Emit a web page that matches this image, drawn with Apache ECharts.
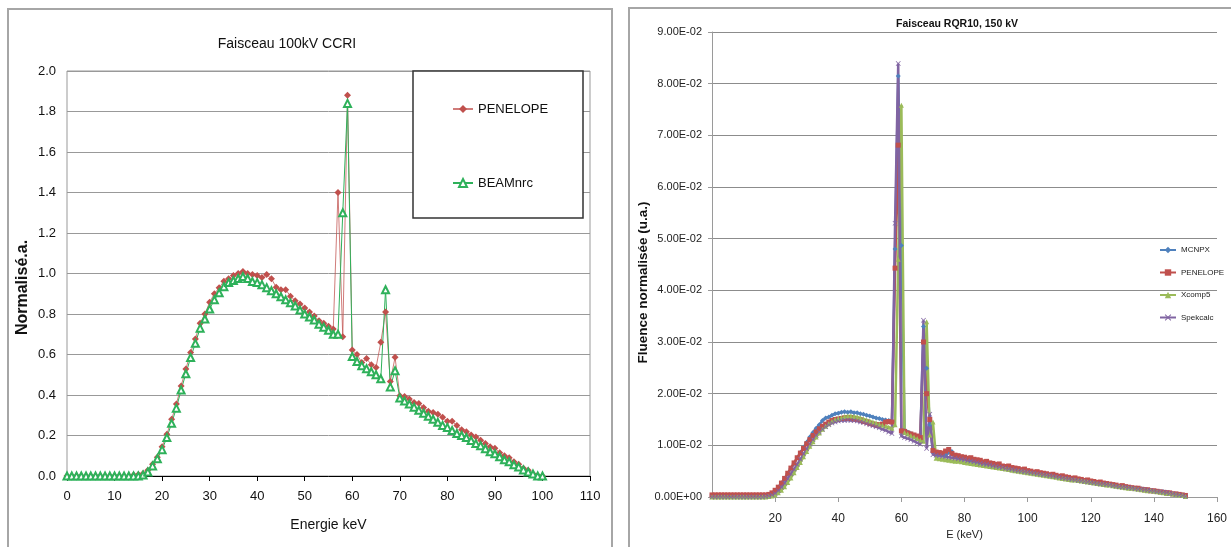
<!DOCTYPE html>
<html><head><meta charset="utf-8">
<script src="https://cdn.jsdelivr.net/npm/echarts@6/dist/echarts.min.js"></script>
<style>html,body{margin:0;padding:0;background:#fff}#c{width:1231px;height:547px}</style>
</head><body><div id="c"></div>
<script>
// ---- Left chart: Faisceau 100kV CCRI ----
const leftTitle = 'Faisceau 100kV CCRI';
const leftXTicks = [0,10,20,30,40,50,60,70,80,90,100,110];
const leftYTicks = [0.0,0.2,0.4,0.6,0.8,1.0,1.2,1.4,1.6,1.8,2.0];
const leftEnergy = Array.from({length:101},(_,i)=>i); // 1 keV bins 0..100
const penelopeL = [
 0,0,0,0,0,0,0,0,0,0,
 0,0,0,0,0.005,0.008,0.012,0.028,0.058,0.092,
 0.144,0.206,0.28,0.355,0.445,0.528,0.61,0.677,0.754,0.80,
 0.858,0.90,0.93,0.962,0.974,0.99,1.00,1.01,1.00,0.995,
 0.99,0.98,0.995,0.974,0.932,0.92,0.92,0.888,0.866,0.85,
 0.83,0.81,0.79,0.767,0.754,0.74,0.726,1.40,0.688,1.88,
 0.622,0.60,0.56,0.58,0.55,0.536,0.66,0.81,0.467,0.586,
 0.396,0.393,0.38,0.363,0.358,0.338,0.32,0.313,0.305,0.29,
 0.27,0.27,0.25,0.228,0.218,0.203,0.193,0.177,0.16,0.144,
 0.137,0.115,0.10,0.09,0.07,0.058,0.038,0.028,0.011,0.003,
 0];
const beamnrcL = [
 0,0,0,0,0,0,0,0,0,0,
 0,0,0,0,0,0,0.005,0.02,0.05,0.085,
 0.13,0.19,0.26,0.335,0.425,0.505,0.585,0.655,0.73,0.775,
 0.825,0.87,0.905,0.935,0.955,0.965,0.975,0.985,0.975,0.96,
 0.955,0.945,0.93,0.915,0.90,0.885,0.87,0.855,0.84,0.82,
 0.80,0.785,0.77,0.75,0.735,0.72,0.70,0.70,1.30,1.84,
 0.59,0.565,0.545,0.53,0.515,0.50,0.48,0.92,0.44,0.52,
 0.385,0.37,0.355,0.34,0.325,0.31,0.295,0.28,0.265,0.25,
 0.24,0.225,0.21,0.20,0.19,0.175,0.16,0.15,0.135,0.12,
 0.11,0.095,0.08,0.07,0.055,0.045,0.03,0.02,0.01,0.0,
 0];

// ---- Right chart: Faisceau RQR10, 150 kV ----
const rightTitle = 'Faisceau RQR10, 150 kV';
const rightXTicks = [20,40,60,80,100,120,140,160];
const rightYTicks = [0,0.01,0.02,0.03,0.04,0.05,0.06,0.07,0.08,0.09];
const rightEnergy = Array.from({length:151},(_,i)=>i); // 1 keV bins 0..150
const mcnpx = [
 0.0001,0.0001,0.0001,0.0001,0.0001,0.0001,0.0001,0.0001,0.0001,0.0001,
 0.0001,0.0001,0.0001,0.0001,0.0001,0.0001,0.0001,0.0002,0.0004,0.0007,
 0.0012,0.0018,0.0026,0.0035,0.0045,0.0055,0.0065,0.0076,0.0086,0.0096,
 0.0106,0.0116,0.0125,0.0133,0.0140,0.0148,0.0153,0.0155,0.0158,0.0161,
 0.0162,0.0164,0.0165,0.0164,0.0165,0.0163,0.0163,0.0161,0.0160,0.0158,
 0.0157,0.0155,0.0153,0.0152,0.0150,0.0149,0.0148,0.0146,0.0480,0.0815,
 0.0487,0.0128,0.0126,0.0123,0.0120,0.0117,0.0113,0.0330,0.0249,0.0140,
 0.0088,0.0084,0.0083,0.0082,0.0081,0.0086,0.0088,0.0080,0.0077,0.0075,
 0.0074,0.0072,0.0071,0.0070,0.0069,0.0067,0.0066,0.0065,0.0064,0.0062,
 0.0061,0.0060,0.0059,0.0057,0.0056,0.0055,0.0054,0.0053,0.0052,0.0051,
 0.0050,0.0049,0.0048,0.0047,0.0046,0.0045,0.0044,0.0043,0.0042,0.0041,
 0.0040,0.0039,0.0038,0.0037,0.0036,0.0035,0.0034,0.0033,0.0032,0.0031,
 0.0030,0.0029,0.0028,0.0027,0.0026,0.0025,0.0024,0.0023,0.0022,0.0021,
 0.0020,0.0020,0.0019,0.0018,0.0017,0.0016,0.0016,0.0015,0.0014,0.0013,
 0.0012,0.0011,0.0010,0.0010,0.0009,0.0008,0.0007,0.0006,0.0005,0.0004,
 0.0002];
const penelopeR = [
 0.0004,0.0004,0.0004,0.0004,0.0004,0.0004,0.0004,0.0004,0.0004,0.0004,
 0.0004,0.0004,0.0004,0.0004,0.0004,0.0004,0.0004,0.0004,0.0005,0.0008,
 0.0013,0.0019,0.0027,0.0036,0.0046,0.0056,0.0066,0.0076,0.0085,0.0094,
 0.0103,0.0111,0.0119,0.0126,0.0132,0.0137,0.0141,0.0145,0.0148,0.0150,
 0.0151,0.0152,0.0153,0.0152,0.0153,0.0151,0.0150,0.0149,0.0146,0.0145,
 0.0142,0.0141,0.0139,0.0140,0.0141,0.0145,0.0146,0.0145,0.0443,0.0681,
 0.0128,0.0127,0.0124,0.0122,0.0120,0.0118,0.0115,0.0300,0.0200,0.0150,
 0.0090,0.0087,0.0086,0.0085,0.0089,0.0092,0.0084,0.0081,0.0080,0.0078,
 0.0077,0.0075,0.0076,0.0073,0.0072,0.0071,0.0068,0.0069,0.0066,0.0065,
 0.0063,0.0064,0.0060,0.0059,0.0060,0.0057,0.0056,0.0055,0.0053,0.0054,
 0.0051,0.0050,0.0048,0.0049,0.0047,0.0046,0.0045,0.0043,0.0044,0.0042,
 0.0040,0.0041,0.0039,0.0038,0.0036,0.0037,0.0035,0.0034,0.0032,0.0033,
 0.0031,0.0030,0.0028,0.0029,0.0027,0.0026,0.0025,0.0024,0.0023,0.0021,
 0.0022,0.0020,0.0019,0.0018,0.0017,0.0017,0.0015,0.0014,0.0014,0.0012,
 0.0012,0.0011,0.0010,0.0009,0.0008,0.0008,0.0006,0.0006,0.0005,0.0004,
 0.0003];
const xcomp5 = [
 0,0,0,0,0,0,0,0,0,0,
 0,0,0,0,0,0,0,0,0.0001,0.0002,
 0.0004,0.0008,0.0013,0.0020,0.0028,0.0037,0.0047,0.0057,0.0067,0.0078,
 0.0088,0.0098,0.0107,0.0116,0.0124,0.0131,0.0137,0.0142,0.0146,0.0150,
 0.0152,0.0154,0.0156,0.0157,0.0157,0.0156,0.0155,0.0153,0.0151,0.0149,
 0.0147,0.0145,0.0143,0.0141,0.0139,0.0137,0.0135,0.0133,0.0140,0.0460,
 0.0758,0.0125,0.0122,0.0119,0.0116,0.0113,0.0110,0.0108,0.0339,0.0120,
 0.0145,0.0075,0.0074,0.0073,0.0072,0.0071,0.0070,0.0069,0.0069,0.0068,
 0.0067,0.0066,0.0065,0.0064,0.0063,0.0062,0.0061,0.0060,0.0059,0.0058,
 0.0057,0.0056,0.0055,0.0054,0.0053,0.0052,0.0051,0.0050,0.0049,0.0048,
 0.0047,0.0046,0.0045,0.0044,0.0043,0.0042,0.0041,0.0040,0.0039,0.0038,
 0.0037,0.0036,0.0035,0.0034,0.0033,0.0033,0.0032,0.0031,0.0030,0.0029,
 0.0028,0.0027,0.0026,0.0025,0.0024,0.0023,0.0023,0.0022,0.0021,0.0020,
 0.0019,0.0018,0.0017,0.0017,0.0016,0.0015,0.0014,0.0013,0.0012,0.0012,
 0.0011,0.0010,0.0009,0.0008,0.0007,0.0007,0.0006,0.0005,0.0004,0.0003,
 0.0001];
const spekcalc = [
 0,0,0,0,0,0,0,0,0,0,
 0,0,0,0,0,0,0,0.0001,0.0002,0.0004,
 0.0007,0.0012,0.0019,0.0027,0.0036,0.0045,0.0054,0.0063,0.0073,0.0083,
 0.0093,0.0102,0.0111,0.0119,0.0126,0.0131,0.0136,0.0140,0.0143,0.0145,
 0.0147,0.0148,0.0148,0.0149,0.0148,0.0148,0.0147,0.0145,0.0144,0.0142,
 0.0140,0.0138,0.0136,0.0134,0.0131,0.0129,0.0126,0.0123,0.0530,0.0839,
 0.0118,0.0115,0.0113,0.0111,0.0108,0.0105,0.0102,0.0342,0.0094,0.0160,
 0.0082,0.0081,0.0080,0.0079,0.0078,0.0077,0.0076,0.0075,0.0074,0.0073,
 0.0072,0.0070,0.0069,0.0068,0.0067,0.0065,0.0064,0.0063,0.0062,0.0060,
 0.0059,0.0058,0.0057,0.0055,0.0054,0.0053,0.0052,0.0051,0.0050,0.0049,
 0.0048,0.0047,0.0046,0.0045,0.0044,0.0043,0.0042,0.0041,0.0040,0.0039,
 0.0038,0.0037,0.0036,0.0035,0.0034,0.0033,0.0032,0.0031,0.0030,0.0029,
 0.0028,0.0027,0.0026,0.0025,0.0025,0.0024,0.0023,0.0022,0.0021,0.0020,
 0.0019,0.0019,0.0018,0.0017,0.0016,0.0015,0.0015,0.0014,0.0013,0.0012,
 0.0011,0.0010,0.0010,0.0009,0.0008,0.0007,0.0006,0.0005,0.0004,0.0003,
 0.0001];

const pairs = (xs, ys) => ys.map((y,i)=>[xs[i], y]);
function sci(v){
  if (Math.abs(v) < 1e-12) return '0.00E+00';
  let e = Math.floor(Math.log10(Math.abs(v)) + 1e-9);
  let m = v / Math.pow(10, e);
  if (m >= 9.995) { m /= 10; e += 1; }
  const sign = e < 0 ? '-' : '+';
  const ee = String(Math.abs(e)).padStart(2,'0');
  return m.toFixed(2) + 'E' + sign + ee;
}
const SANS = '"Liberation Sans", Arial, sans-serif';
const crossSym = 'path://M0,1L1,0L5,4L9,0L10,1L6,5L10,9L9,10L5,6L1,10L0,9L4,5Z';

const chart = echarts.init(document.getElementById('c'), null, {renderer:'canvas'});
chart.setOption({
  animation: false,
  backgroundColor: '#ffffff',
  title: [
    {text: leftTitle, left: 282, top: 32, textAlign: 'center',
     textStyle: {fontFamily: SANS, fontSize: 14, fontWeight: 'normal', color: '#111'}},
    {text: rightTitle, left: 952, top: 14, textAlign: 'center',
     textStyle: {fontFamily: SANS, fontSize: 10.5, fontWeight: 'bold', color: '#111'}}
  ],
  graphic: [
    {type:'rect', shape:{x:8, y:9, width:604, height:560}, style:{fill:'none', stroke:'#a6a6a6', lineWidth:2}, z:1},
    {type:'rect', shape:{x:629, y:8, width:610, height:560}, style:{fill:'none', stroke:'#a6a6a6', lineWidth:2}, z:1},
    {type:'rect', shape:{x:413, y:71, width:170, height:147}, style:{fill:'#ffffff', stroke:'#333333', lineWidth:1.5}, z:3}
  ],
  legend: [
    {data:['PENELOPE','BEAMnrc'], left: 452, top: 100, orient:'vertical', itemGap: 56, padding: 0,
     itemWidth: 20, itemHeight: 10, z: 5,
     textStyle:{fontFamily: SANS, fontSize: 13, color:'#111', lineHeight: 18}},
    {data:['MCNPX','PENELOPE ','Xcomp5','Spekcalc'], left: 1159, top: 244, orient:'vertical', itemGap: 10.5, padding: 0,
     itemWidth: 16, itemHeight: 8,
     formatter: n => n.trim(),
     textStyle:{fontFamily: SANS, fontSize: 8, color:'#222', lineHeight: 12}}
  ],
  grid: [
    {left: 67, top: 71, width: 523, height: 405, show: true, borderColor:'#999', borderWidth:1, backgroundColor:'transparent'},
    {left: 712, top: 32, width: 505, height: 465}
  ],
  xAxis: [
    {type:'value', gridIndex:0, min: leftXTicks[0], max: leftXTicks[leftXTicks.length-1], interval: 10,
     name:'Energie keV', nameLocation:'middle', nameGap: 42,
     nameTextStyle:{fontFamily: SANS, fontSize: 14, color:'#111'},
     axisLine:{show:true, onZero:false, lineStyle:{color:'#000', width:1}},
     axisTick:{show:true, length:5, lineStyle:{color:'#000'}},
     axisLabel:{fontFamily: SANS, fontSize: 13, color:'#111', margin: 14},
     splitLine:{show:false}},
    {type:'value', gridIndex:1, min: 0, max: rightXTicks[rightXTicks.length-1], interval: 20,
     name:'E (keV)', nameLocation:'middle', nameGap: 29,
     nameTextStyle:{fontFamily: SANS, fontSize: 11, color:'#222'},
     axisLine:{show:true, onZero:false, lineStyle:{color:'#9a9a9a', width:1}},
     axisTick:{show:true, length:5, lineStyle:{color:'#9a9a9a'}},
     axisLabel:{fontFamily: SANS, fontSize: 12, color:'#222', margin: 16, showMinLabel:false},
     splitLine:{show:false}}
  ],
  yAxis: [
    {type:'value', gridIndex:0, min: leftYTicks[0], max: leftYTicks[leftYTicks.length-1], interval: 0.2,
     name:'Normalisé.a.', nameLocation:'middle', nameGap: 36, nameRotate: 90,
     nameTextStyle:{fontFamily: SANS, fontSize: 16, fontWeight:'bold', color:'#111', padding:[0,28,0,0]},
     axisLine:{show:false}, axisTick:{show:false},
     axisLabel:{fontFamily: SANS, fontSize: 13, color:'#111', margin: 11, formatter: v => v.toFixed(1)},
     splitLine:{show:true, lineStyle:{color:'#999', width:1}}},
    {type:'value', gridIndex:1, min: 0, max: rightYTicks[rightYTicks.length-1], interval: 0.01,
     name:'Fluence normalisée (u.a.)', nameLocation:'middle', nameGap: 53, nameRotate: 90,
     nameTextStyle:{fontFamily: SANS, fontSize: 13.5, fontWeight:'bold', color:'#111', padding:[0,36,0,0]},
     axisLine:{show:true, lineStyle:{color:'#9a9a9a'}},
     axisTick:{show:true, length:4, lineStyle:{color:'#9a9a9a'}},
     axisLabel:{fontFamily: SANS, fontSize: 11, color:'#222', margin: 10, formatter: sci},
     splitLine:{show:true, lineStyle:{color:'#8c8c8c', width:1}}}
  ],
  series: [
    {name:'PENELOPE', type:'line', xAxisIndex:0, yAxisIndex:0, data: pairs(leftEnergy, penelopeL),
     symbol:'diamond', symbolSize:7, showAllSymbol:true,
     lineStyle:{color:'rgba(192,80,77,0.75)', width:1}, itemStyle:{color:'#c0504d'}, z:3},
    {name:'BEAMnrc', type:'line', xAxisIndex:0, yAxisIndex:0, data: pairs(leftEnergy, beamnrcL),
     symbol:'emptyTriangle', symbolSize:7, showAllSymbol:true,
     lineStyle:{color:'#2eb15a', width:1}, itemStyle:{color:'#2eb15a', borderColor:'#2eb15a', borderWidth:1.2}, z:3},
    {name:'MCNPX', type:'line', xAxisIndex:1, yAxisIndex:1, data: pairs(rightEnergy, mcnpx),
     symbol:'diamond', symbolSize:5, showAllSymbol:true,
     lineStyle:{color:'#4f81bd', width:2.5}, itemStyle:{color:'#4f81bd'}, z:3},
    {name:'PENELOPE ', type:'line', xAxisIndex:1, yAxisIndex:1, data: pairs(rightEnergy, penelopeR),
     symbol:'rect', symbolSize:5, showAllSymbol:true,
     lineStyle:{color:'#c0504d', width:2.5}, itemStyle:{color:'#c0504d'}, z:3},
    {name:'Xcomp5', type:'line', xAxisIndex:1, yAxisIndex:1, data: pairs(rightEnergy, xcomp5),
     symbol:'triangle', symbolSize:5, showAllSymbol:true,
     lineStyle:{color:'#9bbb59', width:2.5}, itemStyle:{color:'#9bbb59'}, z:3},
    {name:'Spekcalc', type:'line', xAxisIndex:1, yAxisIndex:1, data: pairs(rightEnergy, spekcalc),
     symbol:crossSym, symbolSize:5, showAllSymbol:true,
     lineStyle:{color:'#8064a2', width:2.5}, itemStyle:{color:'#8064a2'}, z:3}
  ]
});
</script>
</body></html>
